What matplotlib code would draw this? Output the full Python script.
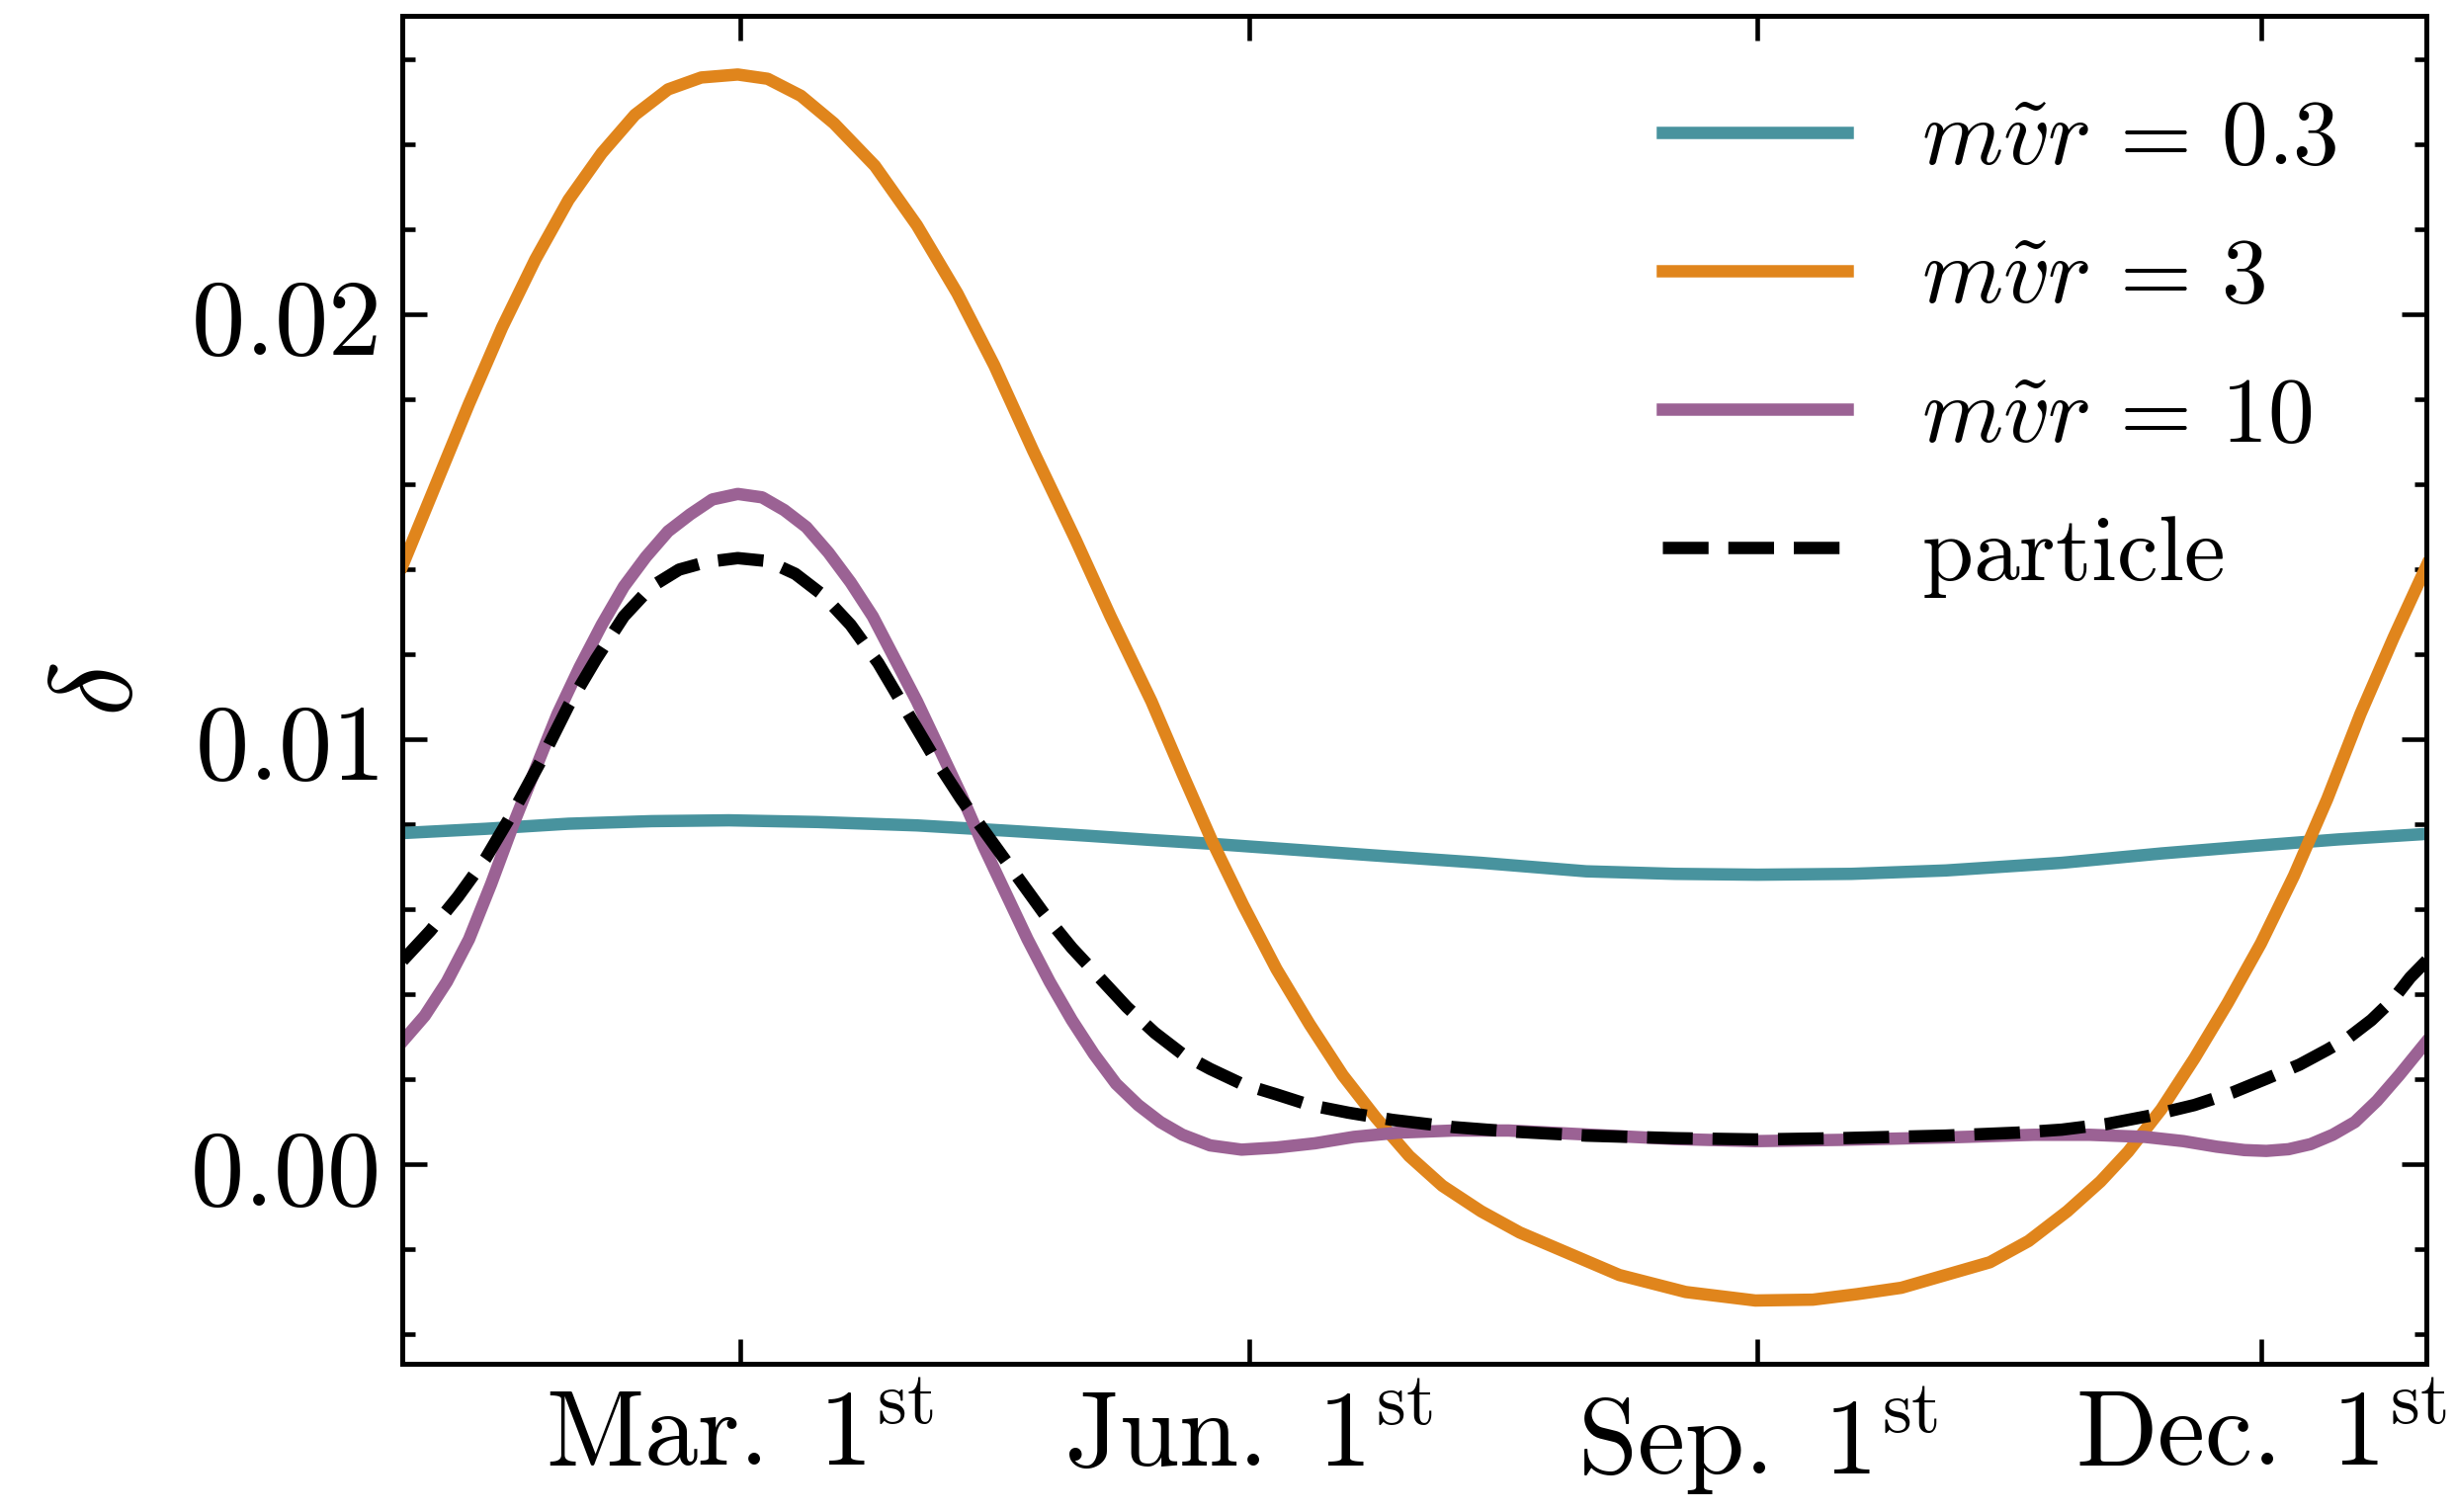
import numpy as np
import matplotlib
matplotlib.use("Agg")
from matplotlib import pyplot as plt

plt.rcParams['mathtext.fontset'] = 'cm'
plt.rcParams['font.family'] = 'serif'
plt.rcParams['font.serif'] = ['DejaVu Serif']

# day of year for each sample, delta values per curve
days_03 = [0, 15, 30, 45, 59, 75, 93, 110, 123.5, 135, 146, 160, 175, 195, 214,
           230, 245, 262, 279, 300, 318, 335, 350, 366]
delta_03 = [0.0078, 0.0079, 0.00802, 0.00808, 0.0081, 0.00806, 0.00798, 0.00785,
            0.00774, 0.00764, 0.00755, 0.00742, 0.00728, 0.0071, 0.0069, 0.00684,
            0.00682, 0.00684, 0.00692, 0.0071, 0.00732, 0.0075, 0.00765, 0.00778]

days_3 = [0, 6, 12, 18, 24, 30, 36, 42, 48, 54, 60.6, 66, 72, 78, 85.4, 93,
          100.3, 107, 114, 121.7, 128, 135.4, 141, 146.4, 152, 158, 164, 170, 176,
          182, 188, 195, 202, 211, 220, 232, 244.6, 255, 263, 271, 279, 287, 294,
          301, 307, 312, 318, 324, 330, 336, 342, 348, 354, 360, 366]
delta_3 = [0.0141, 0.0160, 0.0179, 0.0197, 0.0213, 0.0227, 0.0238, 0.0247, 0.0253,
           0.02558, 0.02565, 0.02555, 0.02515, 0.0245, 0.0235, 0.0221, 0.0205,
           0.0188, 0.0168, 0.0147, 0.0129, 0.0109, 0.0092, 0.0076, 0.0061, 0.0046,
           0.0033, 0.0021, 0.0011, 0.0002, -0.0005, -0.0011, -0.0016, -0.0021,
           -0.0026, -0.0030, -0.0032, -0.00318, -0.00305, -0.0029, -0.0026, -0.0023,
           -0.0018, -0.0011, -0.0004, 0.0003, 0.0013, 0.0025, 0.0038, 0.0052,
           0.0068, 0.0086, 0.0106, 0.0124, 0.0141]

days_10 = [0, 4, 8, 12, 16, 20, 24, 28, 32, 36, 40, 44, 48, 52, 56, 60.6, 65, 69,
           73, 77, 81, 85, 89, 93, 97, 101, 105, 109, 113, 117, 121, 125, 129, 133,
           137, 141, 146, 151.7, 158, 165, 172, 180, 190, 200, 215, 230, 244.6, 260,
           280, 295, 305, 315, 322, 328, 333, 337, 341, 345, 349, 353, 357, 361, 366]
delta_10 = [0.0029, 0.0035, 0.0043, 0.0053, 0.0066, 0.0080, 0.0093, 0.0106, 0.0117,
            0.0127, 0.0136, 0.0143, 0.0149, 0.0153, 0.01565, 0.01578, 0.0157,
            0.0154, 0.0150, 0.0144, 0.0137, 0.0129, 0.0119, 0.0109, 0.0098, 0.0087,
            0.0075, 0.0064, 0.0053, 0.0043, 0.0034, 0.0026, 0.0019, 0.0014, 0.0010,
            0.0007, 0.00045, 0.00035, 0.0004, 0.0005, 0.00065, 0.00075, 0.0008,
            0.0008, 0.0007, 0.0006, 0.00055, 0.00058, 0.00064, 0.0007, 0.0007,
            0.00065, 0.00055, 0.00042, 0.00034, 0.00032, 0.00036, 0.00048, 0.0007,
            0.0010, 0.0015, 0.0021, 0.0029]

days_particle = [0, 5, 10, 15, 20, 25, 30, 35, 40, 45, 50, 55, 60.6, 66, 71, 76,
                 81, 86, 91, 96, 101, 106, 111, 116, 121, 126, 131, 136, 141, 146,
                 151.7, 158, 164, 171, 179, 190, 200, 214, 230, 244.6, 260, 279,
                 292, 300, 308, 316, 324, 331, 337, 343, 348, 352, 356, 360, 363, 366]
delta_particle = [0.0048, 0.0055, 0.0063, 0.0072, 0.0083, 0.0095, 0.0108, 0.0119,
                  0.0129, 0.0136, 0.0140, 0.01418, 0.01427, 0.0142, 0.0139, 0.0134,
                  0.0127, 0.0118, 0.0107, 0.0096, 0.0086, 0.0077, 0.0068, 0.0059,
                  0.0051, 0.0044, 0.0037, 0.0031, 0.0026, 0.00225, 0.0019, 0.00165,
                  0.0014, 0.00122, 0.00105, 0.00088, 0.00078, 0.00068, 0.00062,
                  0.00059, 0.00062, 0.00068, 0.00075, 0.00082, 0.00095, 0.00115,
                  0.0014, 0.0017, 0.00202, 0.00235, 0.0027, 0.0030, 0.0034, 0.0039,
                  0.0044, 0.0048]

month_ticks = [61, 153, 245, 336]
month_labels = [r'$\mathrm{Mar.}\ 1^{\mathrm{st}}$', r'$\mathrm{Jun.}\ 1^{\mathrm{st}}$',
                r'$\mathrm{Sep.}\ 1^{\mathrm{st}}$', r'$\mathrm{Dec.}\ 1^{\mathrm{st}}$']
y_ticks = [0.0, 0.01, 0.02]
y_labels = [r'$0.00$', r'$0.01$', r'$0.02$']

fig = plt.figure(figsize=(8.28, 5.1), dpi=300)
ax = fig.add_axes([0.164, 0.098, 0.8245, 0.8915])

ax.plot(days_03, delta_03, color='#48939e', lw=3, label=r'$m\tilde{v}r\,=\,0.3$')
ax.plot(days_3, delta_3, color='#e0851c', lw=3, label=r'$m\tilde{v}r\,=\,3$')
ax.plot(days_10, delta_10, color='#9b6294', lw=3, label=r'$m\tilde{v}r\,=\,10$')
ax.plot(days_particle, delta_particle, color='black', lw=3, ls='--',
        label=r'$\mathrm{particle}$')

ax.set_xlim(0, 366)
ax.set_ylim(-0.00469, 0.02703)
ax.set_xticks(month_ticks)
ax.set_xticklabels(month_labels, fontsize=26)
ax.set_yticks(y_ticks)
ax.set_yticklabels(y_labels, fontsize=26)
ax.set_yticks(np.arange(-0.004, 0.027, 0.002), minor=True)
ax.set_ylabel(r'$\delta$', fontsize=28, labelpad=8)

for s in ax.spines.values():
    s.set_linewidth(1.2)
ax.tick_params(which='both', direction='in', top=True, right=True, width=1.1)
ax.tick_params(which='major', length=6)
ax.tick_params(which='minor', length=3)
ax.tick_params(axis='y', pad=6)
ax.tick_params(axis='x', pad=5)

ax.legend(loc='upper right', bbox_to_anchor=(0.988, 0.99), fontsize=22.5,
          frameon=False, handlelength=2.0, handletextpad=0.8,
          labelspacing=0.535, borderaxespad=0.3)

fig.savefig('out.png', dpi=300)
